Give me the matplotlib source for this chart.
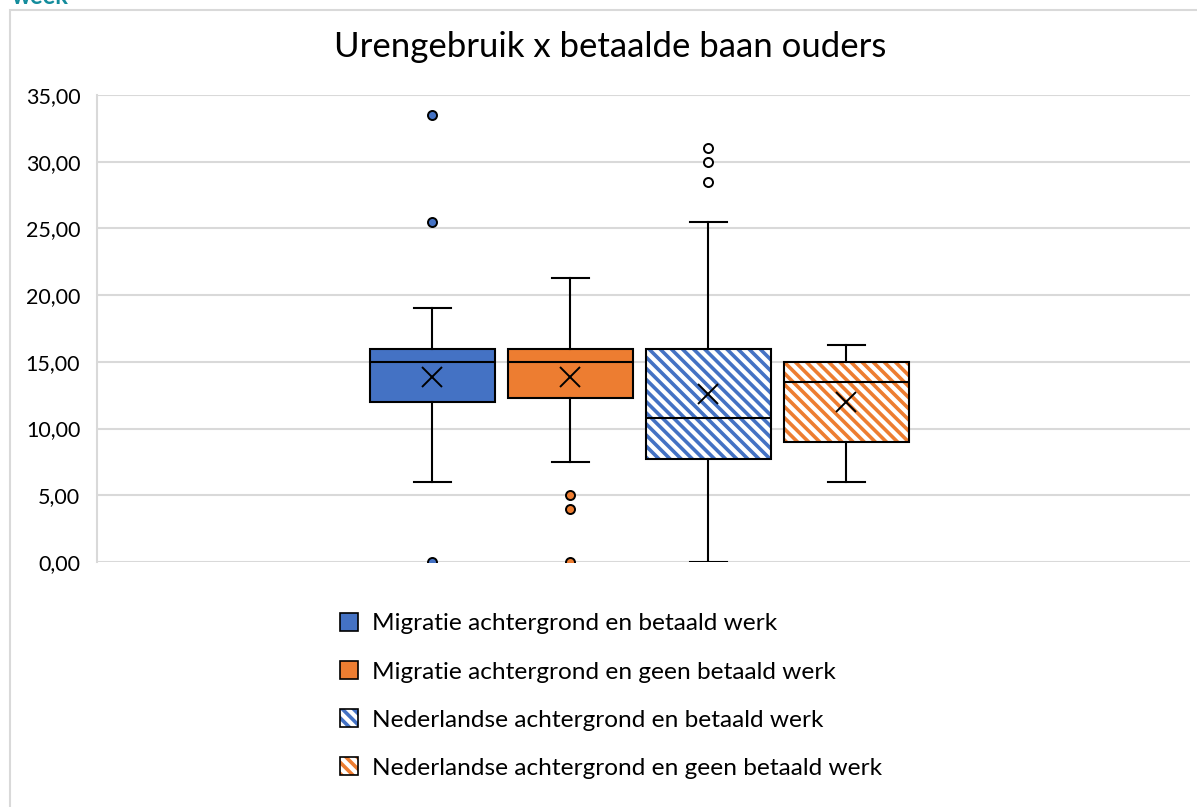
import matplotlib
matplotlib.use("Agg")
import matplotlib.pyplot as plt
from matplotlib.patches import Patch, PathPatch, Rectangle
from matplotlib.legend_handler import HandlerTuple

plt.rcParams['font.family'] = ['Lato', 'DejaVu Sans']
plt.rcParams['hatch.linewidth'] = 2.6

# data
groups = ['Migratie achtergrond en betaald werk',
          'Migratie achtergrond en geen betaald werk',
          'Nederlandse achtergrond en betaald werk',
          'Nederlandse achtergrond en geen betaald werk']
q1 = [12.0, 12.3, 7.7, 9.0]
q3 = [16.0, 16.0, 16.0, 15.0]
medians = [15.0, 15.0, 10.8, 13.5]
means = [13.9, 13.85, 12.6, 12.0]
whislo = [6.0, 7.5, 0.0, 6.0]
whishi = [19.0, 21.25, 25.5, 16.25]
outliers = [[33.5, 25.5, 0.0], [5.0, 4.0, 0.0], [31.0, 30.0, 28.5], []]
yticks = [0, 5, 10, 15, 20, 25, 30, 35]

colors = ['#4472C4', '#ED7D31', '#4472C4', '#ED7D31']
hatched = [False, False, True, True]
HATCH = '\\\\\\'

fig = plt.figure(figsize=(11.97, 8.07), dpi=100)
ax = fig.add_axes([0.081, 0.3036, 0.913, 0.5787])

stats = []
for i in range(len(groups)):
    stats.append(dict(med=medians[i], q1=q1[i], q3=q3[i], mean=means[i],
                      whislo=whislo[i], whishi=whishi[i], fliers=outliers[i]))

positions = [1, 2, 3, 4]
res = ax.bxp(stats, positions=positions, widths=0.906, capwidths=0.27,
             patch_artist=True, showmeans=True,
             boxprops=dict(linewidth=1.5, edgecolor='black'),
             whiskerprops=dict(color='black', linewidth=1.5),
             capprops=dict(color='black', linewidth=1.5),
             medianprops=dict(color='black', linewidth=1.5),
             meanprops=dict(marker='x', markeredgecolor='black',
                            markersize=14, markeredgewidth=1.4),
             flierprops=dict(marker='o', markersize=6.5,
                             markeredgecolor='black', markeredgewidth=1.4))

for i, box in enumerate(res['boxes']):
    fl = res['fliers'][i]
    if hatched[i]:
        box.set_facecolor('white')
        box.set_edgecolor(colors[i])
        box.set_hatch(HATCH)
        box.set_linewidth(0)
        ax.add_patch(PathPatch(box.get_path(), facecolor='none',
                               edgecolor='black', linewidth=1.5, zorder=2.1))
        fl.set_markerfacecolor('white')
    else:
        box.set_facecolor(colors[i])
        fl.set_markerfacecolor(colors[i])

ax.set_xlim(-1.43, 6.49)
ax.set_ylim(0, 35)
ax.set_yticks(yticks)
ax.set_yticklabels([f'{v:.2f}'.replace('.', ',') for v in yticks], fontsize=15.5)
ax.set_xticks([])
ax.tick_params(axis='y', length=0, pad=12)
ax.grid(axis='y', color='#d9d9d9', linewidth=1.5)
ax.set_axisbelow(True)
for s in ['top', 'right', 'bottom']:
    ax.spines[s].set_visible(False)
ax.spines['left'].set_color('#d9d9d9')
ax.spines['left'].set_linewidth(1.5)

fig.text(0.51, 1 - 47 / 807, 'Urengebruik x betaalde baan ouders',
         ha='center', va='center', fontsize=25)

# legend
handles = []
for i in range(len(groups)):
    if hatched[i]:
        h = (Patch(facecolor='white', edgecolor=colors[i], hatch=HATCH, linewidth=0),
             Patch(facecolor='none', edgecolor='black', linewidth=1.2))
    else:
        h = Patch(facecolor=colors[i], edgecolor='black', linewidth=1.2)
    handles.append(h)
fig.legend(handles, groups, loc='upper left',
           bbox_to_anchor=(318 / 1197, 1 - 591 / 807), frameon=False,
           fontsize=17.6, handlelength=0.75, handleheight=0.75, handletextpad=0.57,
           labelspacing=1.09, handler_map={tuple: HandlerTuple(ndivide=1)})

# outer frame of the embedded chart and the cut-off heading above it
fig.add_artist(Rectangle((10 / 1197, -0.1), 1.2, 1 - 10 / 807 + 0.1,
                         transform=fig.transFigure, facecolor='none',
                         edgecolor='#d9d9d9', linewidth=1.5))
fig.text(12 / 1197, 1 + 4 / 807, 'week', ha='left', va='center',
         fontsize=17, fontweight='bold', color='#138C9C')

fig.savefig('out.png', dpi=100)
